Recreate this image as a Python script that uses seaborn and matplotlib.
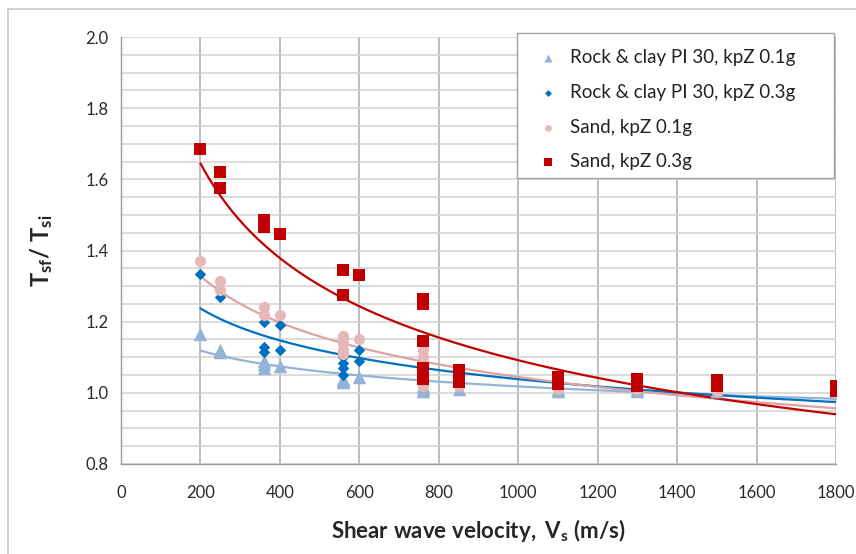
import numpy as np
import pandas as pd
import matplotlib
matplotlib.use('Agg')
import matplotlib.pyplot as plt
import seaborn as sns
from matplotlib.patches import Rectangle
from matplotlib.ticker import MultipleLocator

# values: (Vs, Tsf/Tsi); high-Vs points sit partly hidden under the squares
rock_01_vs = [200, 250, 250, 360, 360, 360, 400, 560, 560, 560, 600, 760, 760, 760, 850, 1100, 1100,
              1300, 1300, 1500, 1500, 1800, 1800, 1800]
rock_01_t = [1.165, 1.12, 1.115, 1.09, 1.08, 1.07, 1.075, 1.04, 1.035, 1.03, 1.045, 1.02, 1.01, 1.005, 1.01,
             1.01, 1.005, 1.01, 1.005, 1.005, 1.005, 1.005, 1.0, 1.0]

rock_03_vs = [200, 250, 360, 360, 360, 400, 400, 560, 560, 560, 560, 600, 600, 760, 760, 760, 760, 850, 850,
              1100, 1100, 1100, 1300, 1300, 1300, 1500, 1500, 1800, 1800, 1800]
rock_03_t = [1.335, 1.27, 1.2, 1.13, 1.115, 1.19, 1.12, 1.1, 1.085, 1.07, 1.05, 1.12, 1.09, 1.06, 1.05, 1.04,
             1.03, 1.035, 1.025, 1.025, 1.02, 1.015, 1.02, 1.015, 1.01, 1.015, 1.01, 1.01, 1.01, 1.005]

sand_01_vs = [200, 250, 250, 360, 360, 400, 560, 560, 560, 560, 560, 600, 760, 760, 760, 760, 760, 760,
              850, 850, 850, 850, 1100, 1100, 1100, 1300, 1300, 1500, 1500, 1800, 1800]
sand_01_t = [1.37, 1.315, 1.29, 1.24, 1.22, 1.22, 1.16, 1.15, 1.14, 1.12, 1.11, 1.15, 1.12, 1.1, 1.08, 1.06,
             1.04, 1.02, 1.05, 1.04, 1.03, 1.02, 1.03, 1.02, 1.01, 1.02, 1.01, 1.01, 1.005, 1.005, 1.0]

sand_03_vs = [200, 250, 250, 360, 360, 400, 560, 560, 600, 760, 760, 760, 760, 760, 760, 760, 850, 850,
              850, 850, 1100, 1100, 1100, 1300, 1300, 1300, 1500, 1500, 1500, 1800, 1800, 1800]
sand_03_t = [1.685, 1.62, 1.575, 1.485, 1.465, 1.445, 1.345, 1.275, 1.33, 1.265, 1.25, 1.145, 1.07, 1.06,
             1.05, 1.04, 1.065, 1.05, 1.04, 1.03, 1.045, 1.035, 1.025, 1.04, 1.03, 1.02, 1.035, 1.025, 1.02,
             1.02, 1.01, 1.005]

labels = ['Rock & clay PI 30, kpZ 0.1g', 'Rock & clay PI 30, kpZ 0.3g',
          'Sand, kpZ 0.1g', 'Sand, kpZ 0.3g']
colors = ['#95B3D7', '#0070C0', '#E6B9B8', '#C00000']
line_colors = ['#95B3D7', '#0070C0', '#DDA3A2', '#C00000']
markers = ['^', 'D', 'o', 's']
sizes = [95, 34, 65, 80]

series = [(rock_01_vs, rock_01_t), (rock_03_vs, rock_03_t),
          (sand_01_vs, sand_01_t), (sand_03_vs, sand_03_t)]

sns.set_style('white')
plt.rcParams['font.family'] = ['Lato', 'DejaVu Sans']
plt.rcParams['mathtext.fontset'] = 'custom'
plt.rcParams['mathtext.rm'] = 'Lato'
plt.rcParams['mathtext.it'] = 'Lato:italic'
plt.rcParams['mathtext.bf'] = 'Lato:bold'

fig = plt.figure(figsize=(8.56, 5.54), dpi=100)
ax = fig.add_axes([121 / 856, 1 - 464 / 554, (836 - 121) / 856, (464 - 37) / 554])

# chart area border
fig.patches.append(Rectangle((8 / 856, -0.1), 1.2, 1 - 9 / 554 + 0.1, transform=fig.transFigure,
                             fill=False, edgecolor='#C8C8C8', linewidth=1.2, zorder=0))

vs_grid = np.linspace(200, 1800, 200)
for (vs, t), lab, c, lc, m, s in zip(series, labels, colors, line_colors, markers, sizes):
    df = pd.DataFrame({'vs': vs, 't': t})
    sns.scatterplot(data=df, x='vs', y='t', marker=m, color=c, s=s, edgecolor=c,
                    linewidth=0, label=lab, ax=ax, zorder=3)
    # power trendline, like Excel: ln t = ln a + b ln vs
    b, ln_a = np.polyfit(np.log(df['vs']), np.log(df['t']), 1)
    fit = pd.DataFrame({'vs': vs_grid, 't': np.exp(ln_a) * vs_grid ** b})
    sns.lineplot(data=fit, x='vs', y='t', color=lc, linewidth=1.6, ax=ax, zorder=2, legend=False)

ax.set_xlim(0, 1800)
ax.set_ylim(0.8, 2.0)
ax.xaxis.set_major_locator(MultipleLocator(200))
ax.yaxis.set_major_locator(MultipleLocator(0.2))
ax.yaxis.set_minor_locator(MultipleLocator(0.05))
ax.yaxis.set_major_formatter(matplotlib.ticker.FormatStrFormatter('%.1f'))

ax.grid(axis='x', which='major', color='#ABABAB', linewidth=1.1)
ax.grid(axis='y', which='both', color='#D2D2D2', linewidth=1.1)
ax.set_axisbelow(True)

for sp in ['top', 'right']:
    ax.spines[sp].set_visible(False)
for sp in ['left', 'bottom']:
    ax.spines[sp].set_color('#9A9A9A')
    ax.spines[sp].set_linewidth(1.0)

ax.tick_params(axis='both', which='major', direction='out', length=5, width=1,
               color='#9A9A9A', labelsize=12, labelcolor='#2A2A2A', pad=4)
ax.tick_params(axis='y', which='minor', length=0)
ax.tick_params(axis='x', pad=10)

ax.set_xlabel(r'$\mathbf{Shear\ wave\ velocity,\ V_s\ (m/s)}$', fontsize=16, labelpad=12)
ax.set_ylabel(r'$\mathbf{T_{sf}/\ T_{si}}$', fontsize=17, labelpad=22)

# legend box (Excel draws it wider than the text)
ax.add_patch(Rectangle((517 / 856, 1 - 178 / 554), (834 - 517) / 856, (178 - 33) / 554,
                       transform=fig.transFigure, clip_on=False, facecolor='white',
                       edgecolor='#A0A0A0', linewidth=1.0, zorder=4.9))
leg = ax.legend(loc='upper left', bbox_to_anchor=(517 / 856, 1 - 33 / 554),
                bbox_transform=fig.transFigure, fontsize=13.5, frameon=False,
                handletextpad=0.35, labelspacing=0.95, borderpad=0.85,
                handlelength=1.6, markerscale=0.6, borderaxespad=0)
leg.set_zorder(5)
for txt in leg.get_texts():
    txt.set_color('#222222')

fig.savefig('out.png', dpi=100)
